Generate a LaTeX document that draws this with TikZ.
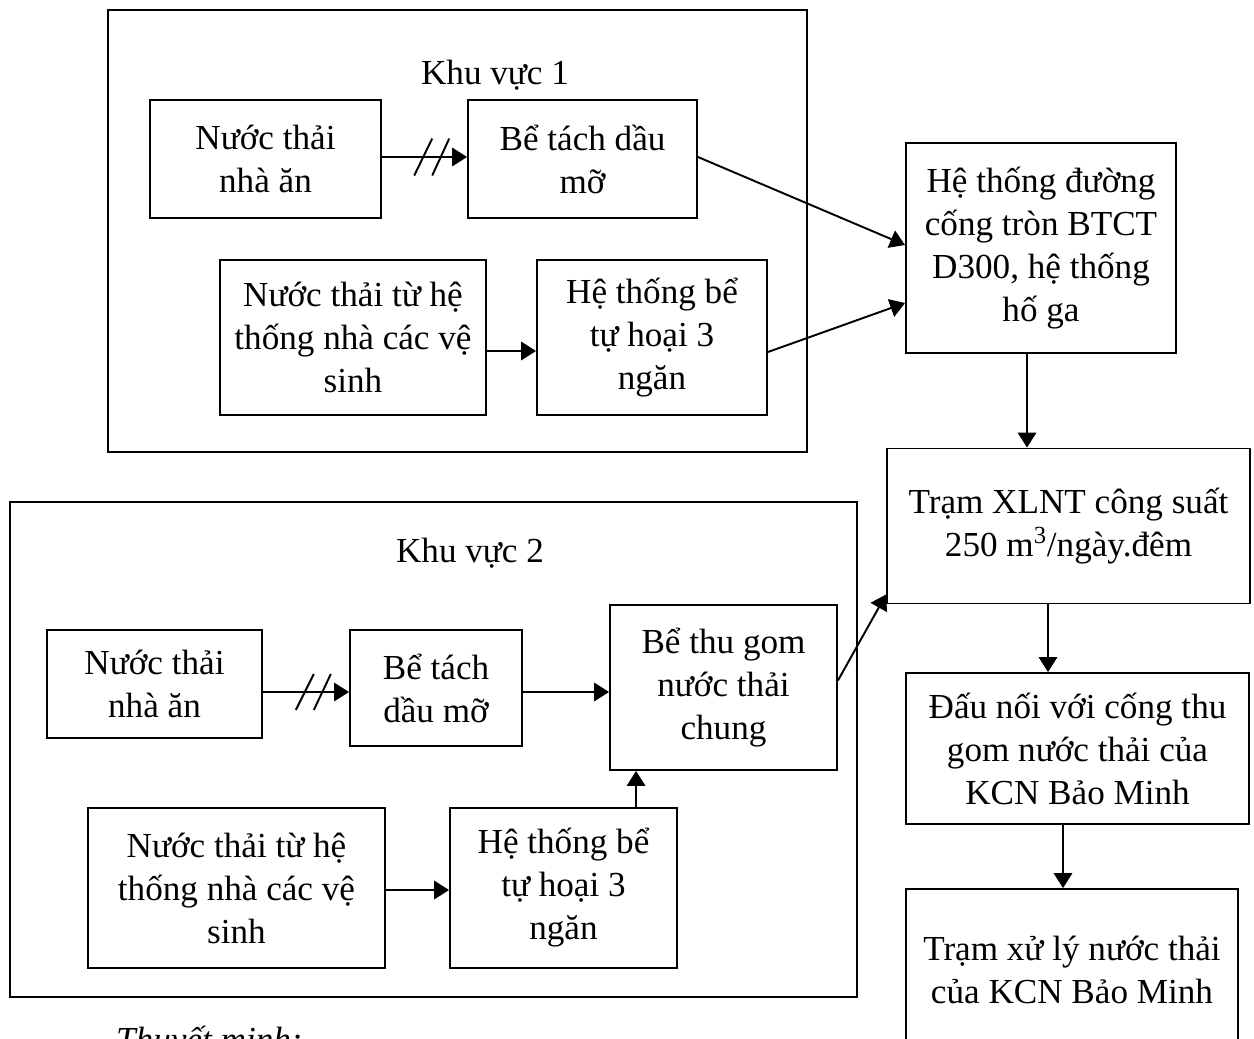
\documentclass[tikz,border=0pt]{standalone}
\usepackage{fontspec}
\setmainfont{Liberation Serif}
\usetikzlibrary{arrows.meta,calc}
\tikzset{
  box/.style={draw, line width=1.1pt, align=center, inner sep=0pt,
    font=\fontsize{20pt}{24.5pt}\selectfont},
  area/.style={draw, line width=1.1pt},
  title/.style={font=\fontsize{20pt}{24.5pt}\selectfont},
  flow/.style={line width=1.1pt, -{Triangle[length=8.5pt,width=10.5pt]}},
  slash/.style={line width=1.1pt}
}
\begin{document}
\begin{tikzpicture}[x=0.02cm,y=-0.02cm]
\useasboundingbox (0,0) rectangle (1254,1038);

% ---- Khu vực 1 ----
\draw[area] (108,10) rectangle (807,452);
\node[title] (t1) at (495,75) {Khu vực 1};
\node[box, minimum width=4.62cm, minimum height=2.36cm] (a1) at (265.5,159) {Nước thải\\nhà ăn};
\node[box, minimum width=4.58cm, minimum height=2.36cm] (b1) at (582.5,159) {Bể tách dầu\\mỡ};
\node[box, minimum width=5.32cm, minimum height=3.10cm] (c1) at (353,337.5) {Nước thải từ hệ\\thống nhà các vệ\\sinh};
\node[box, minimum width=4.60cm, minimum height=3.10cm] (d1) at (652,337.5) {Hệ thống bể\\tự hoại 3\\ngăn};

% ---- Khu vực 2 ----
\draw[area] (10,502) rectangle (857,997);
\node[title] (t2) at (470,553) {Khu vực 2};
\node[box, minimum width=4.30cm, minimum height=2.16cm] (a2) at (154.5,684) {Nước thải\\nhà ăn};
\node[box, minimum width=3.44cm, minimum height=2.32cm] (b2) at (436,688) {Bể tách\\dầu mỡ};
\node[box, minimum width=4.54cm, minimum height=3.30cm] (e2) at (723.5,687.5) {Bể thu gom\\nước thải\\chung};
\node[box, minimum width=5.94cm, minimum height=3.20cm] (c2) at (236.5,888) {Nước thải từ hệ\\thống nhà các vệ\\sinh};
\node[box, minimum width=4.54cm, minimum height=3.20cm] (d2) at (563.5,888) {Hệ thống bể\\tự hoại 3\\ngăn};

% ---- right-hand chain ----
\node[box, minimum width=5.40cm, minimum height=4.20cm] (h) at (1041,248) {Hệ thống đường\\cống tròn BTCT\\D300, hệ thống\\hố ga};
\node[box, minimum width=7.26cm, minimum height=3.10cm] (t) at (1068.5,526) {Trạm XLNT công suất\\250 m\textsuperscript{3}/ngày.đêm};
\node[box, minimum width=6.86cm, minimum height=3.02cm] (j) at (1077.5,748.5) {Đấu nối với cống thu\\gom nước thải của\\KCN Bảo Minh};
\node[box, minimum width=6.64cm, minimum height=3.22cm] (k) at (1072,969.5) {Trạm xử lý nước thải\\của KCN Bảo Minh};

\node[title, font=\fontsize{20pt}{24.5pt}\selectfont\itshape, anchor=west] (note) at (110,1043) {Thuyết minh:};

% ---- connectors, zone 1 ----
\draw[flow] ($(a1.east)+(0,-2)$) -- coordinate[pos=0.585] (m1) ($(b1.west)+(0,-2)$);
\draw[slash] ($(m1)+(-17.5,18.5)$) -- ($(m1)+(0.5,-18.5)$);
\draw[slash] ($(m1)+(0.5,18.5)$) -- ($(m1)+(17.5,-18.5)$);
\draw[flow] ($(c1.east)+(0,13.5)$) -- ($(d1.west)+(0,13.5)$);
\draw[flow] ($(b1.east)+(0,-2)$) -- ($(h.west)+(0,-3)$);
\draw[flow] ($(d1.east)+(0,14.5)$) -- ($(h.west)+(0,55)$);

% ---- connectors, zone 2 ----
\draw[flow] ($(a2.east)+(0,8)$) -- coordinate[pos=0.585] (m2) ($(b2.west)+(0,4)$);
\draw[slash] ($(m2)+(-17.5,18)$) -- ($(m2)+(0.5,-18)$);
\draw[slash] ($(m2)+(0.5,18)$) -- ($(m2)+(17.5,-18)$);
\draw[flow] ($(b2.east)+(0,4)$) -- ($(e2.west)+(0,4.5)$);
\draw[flow] ($(c2.east)+(0,2)$) -- ($(d2.west)+(0,2)$);
\coordinate (e2in) at ($(e2.south west)+(27,0)$);
\draw[flow] (e2in |- d2.north) -- (e2in);
\draw[flow] ($(e2.east)+(0,-7)$) -- ($(t.south west)+(0,-10)$);

% ---- connectors, right-hand chain ----
\coordinate (hout) at ($(h.south)+(-14,0)$);
\draw[flow] (hout) -- (hout |- t.north);
\coordinate (jin) at ($(j.north)+(-29.5,0)$);
\draw[flow] (jin |- t.south) -- (jin);
\coordinate (jout) at ($(j.south)+(-14.5,0)$);
\draw[flow] (jout) -- (jout |- k.north);
\end{tikzpicture}
\end{document}
